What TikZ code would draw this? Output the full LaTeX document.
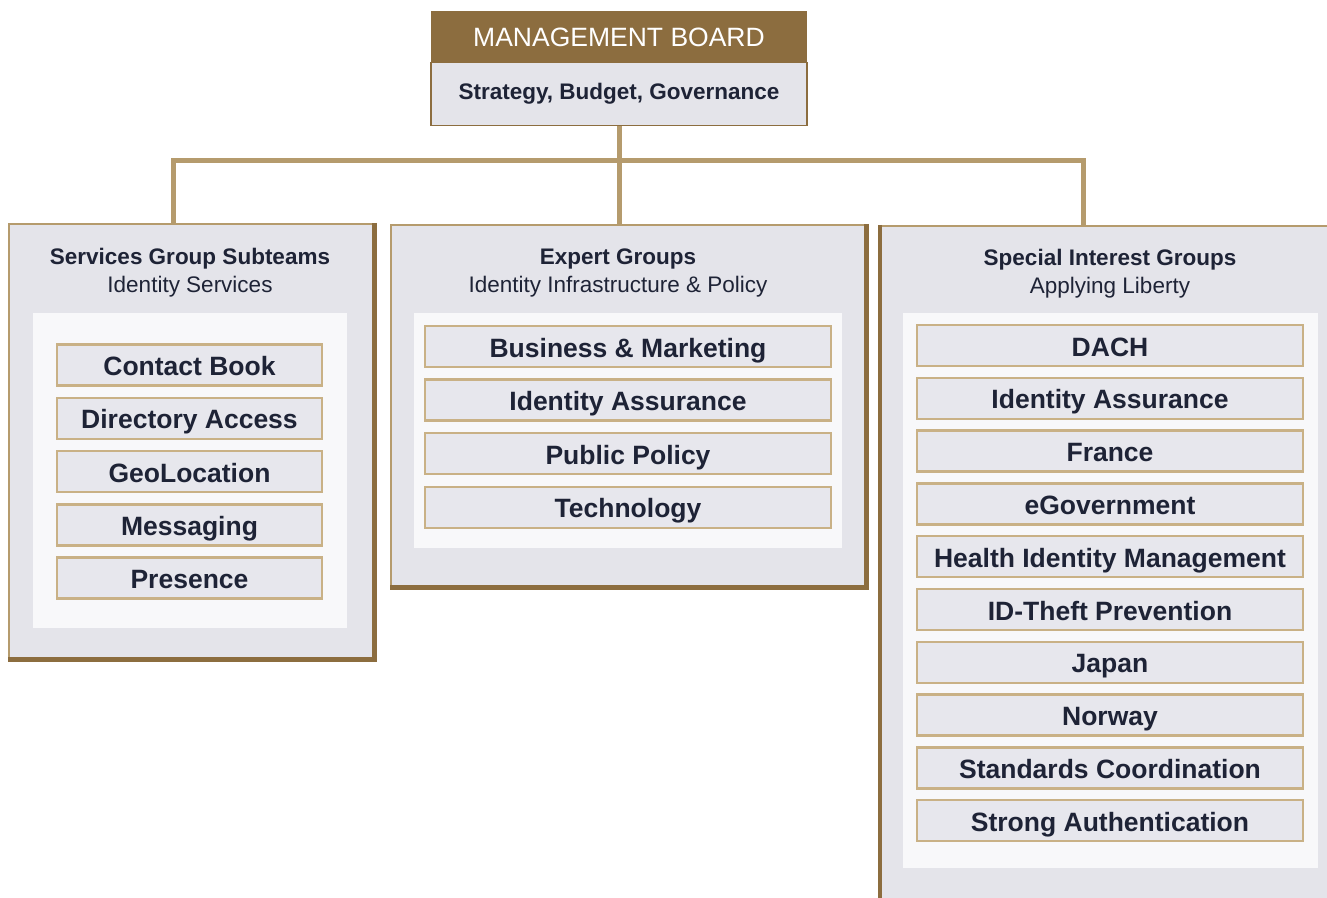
\documentclass[tikz,border=0pt]{standalone}
\usepackage{fontspec}
\setmainfont{Liberation Sans}
\usetikzlibrary{positioning}
\definecolor{lbbrown}{HTML}{8C6D3F}
\definecolor{lbtan}{HTML}{B59B6D}
\definecolor{lbline}{HTML}{C9B186}
\definecolor{lbgrey}{HTML}{E4E4EA}
\definecolor{lbitem}{HTML}{E7E7ED}
\definecolor{lbtext}{HTML}{1E2336}

\begin{document}
\begin{tikzpicture}[x=1pt, y=-1pt,
    groupbox/.style={draw=lbtan, line width=2.5pt, fill=lbgrey, inner sep=0pt},
    panel/.style={fill=white!75!lbgrey, inner sep=0pt},
    itembox/.style={draw=lbline, line width=2.5pt, fill=lbitem, inner sep=0pt, text=lbtext,
      text height=24pt, text depth=3pt, font=\fontsize{26.5}{30}\selectfont\bfseries},
    title/.style={align=center, text=lbtext, font=\fontsize{22.5}{28}\selectfont},
    link/.style={lbtan, line width=5pt},
    rim/.style={lbbrown, line width=4.5pt}]
  \useasboundingbox (0,0) rectangle (1327,897);

  % management board
  \node[fill=lbbrown, minimum width=376pt, minimum height=53pt, text=white, text height=19pt, text depth=1pt,
        font=\fontsize{26.5}{30}\selectfont] (board) at (619,37.5) {MANAGEMENT BOARD};
  \node[fill=lbgrey, draw=lbbrown, line width=1.5pt, minimum width=376pt, minimum height=63pt,
        text height=16pt, text depth=6pt,
        text=lbtext, font=\fontsize{22.5}{28}\selectfont\bfseries] (strat) at (619,94) {Strategy, Budget, Governance};

  % connectors
  \coordinate (bus) at (619,160);
  \coordinate (sgdrop) at (173,226);
  \coordinate (egdrop) at (619,226);
  \coordinate (sigdrop) at (1083,228);
  \draw[link] (strat.south) -- (egdrop);
  \draw[link] (sgdrop) |- (bus) -| (sigdrop);

  % services group
  \node[groupbox, minimum width=364pt, minimum height=434pt] (sg) at (191,441) {};
  \draw[rim] (sg.north east) -- (sg.south east) -- (sg.south west);
  \node[panel, minimum width=314pt, minimum height=315pt] (sgpanel) at (190,470.5) {};
  \node[title] (sgtitle) at (190,273) {\textbf{Services Group Subteams}\\Identity Services};
  \foreach \name [count=\i from 0] in {Contact Book, Directory Access, GeoLocation, Messaging, Presence}
    \node[itembox, minimum width=265pt, minimum height=41pt] (sg\i) at (189.5,{365+53.3*\i}) {\name};

  % expert groups
  \node[groupbox, minimum width=474pt, minimum height=361pt] (eg) at (628,405.5) {};
  \draw[rim] (eg.north east) -- (eg.south east) -- (eg.south west);
  \node[panel, minimum width=428pt, minimum height=235pt] (egpanel) at (628,430.5) {};
  \node[title] (egtitle) at (618,273) {\textbf{Expert Groups}\\Identity Infrastructure \& Policy};
  \foreach \name [count=\i from 0] in {Business \& Marketing, Identity Assurance, Public Policy, Technology}
    \node[itembox, minimum width=406pt, minimum height=41pt] (eg\i) at (628,{346.5+53.6*\i}) {\name};

  % special interest groups
  \node[groupbox, minimum width=460pt, minimum height=690pt] (sig) at (1111,571) {};
  \draw[rim, line width=4pt] (sig.north west) -- (sig.south west);
  \node[panel, minimum width=415pt, minimum height=555pt] (sigpanel) at (1110.5,590.5) {};
  \node[title] (sigtitle) at (1110,274) {\textbf{Special Interest Groups}\\Applying Liberty};
  \foreach \name [count=\i from 0] in {DACH, Identity Assurance, France, eGovernment, Health Identity Management,
      ID-Theft Prevention, Japan, Norway, Standards Coordination, Strong Authentication}
    \node[itembox, minimum width=386pt, minimum height=41pt] (sig\i) at (1110,{345.5+52.8*\i}) {\name};
\end{tikzpicture}
\end{document}
